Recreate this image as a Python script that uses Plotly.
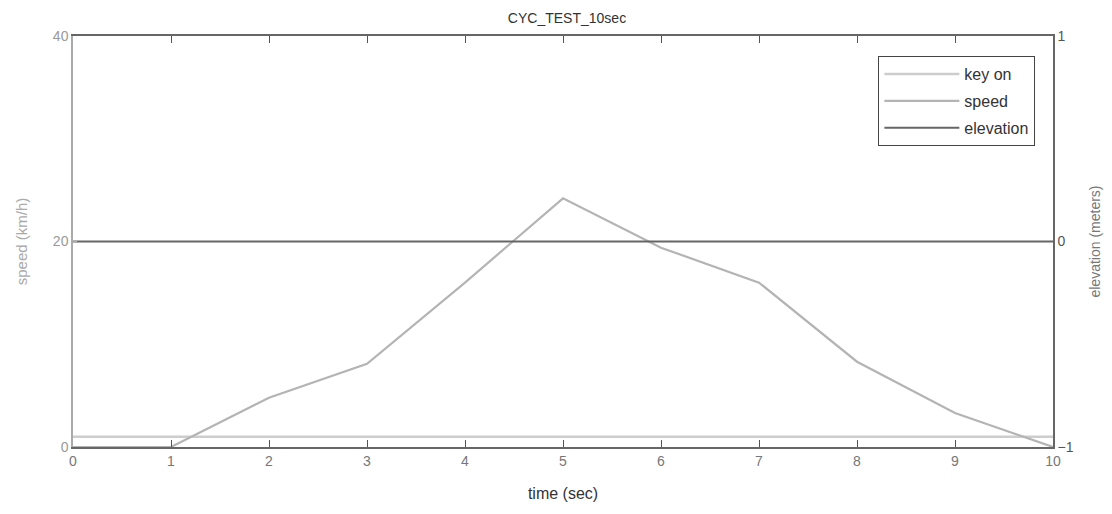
import plotly.graph_objects as go

time_sec = [0, 1, 2, 3, 4, 5, 6, 7, 8, 9, 10]
key_on = [1, 1, 1, 1, 1, 1, 1, 1, 1, 1, 1]
speed_time = [0, 1, 2, 3, 4, 5, 6, 7, 8, 9, 10]
speed_kmh = [0, 0, 4.8, 8.1, 16.0, 24.2, 19.4, 16.0, 8.3, 3.3, 0]
elevation_m = [0, 0, 0, 0, 0, 0, 0, 0, 0, 0, 0]

x_ticks = [0, 1, 2, 3, 4, 5, 6, 7, 8, 9, 10]
left_ticks = [0, 20, 40]
right_ticks = [-1, 0, 1]

FONT = "Liberation Sans, Arial, sans-serif"

fig = go.Figure()
fig.add_trace(go.Scatter(x=time_sec, y=key_on, mode="lines", name="key on", legendgroup="a",
                         line=dict(color="#cdcdcd", width=2.5)))
fig.add_trace(go.Scatter(x=speed_time, y=speed_kmh, mode="lines", name="speed", legendgroup="b",
                         line=dict(color="#b4b4b4", width=2.2)))
fig.add_trace(go.Scatter(x=time_sec, y=elevation_m, mode="lines", name="elevation", legendgroup="c",
                         line=dict(color="#666666", width=2), yaxis="y2"))

fig.update_layout(
    width=1112, height=514,
    margin=dict(l=65, r=67, t=28, b=75, autoexpand=False),
    paper_bgcolor="white", plot_bgcolor="white",
    font=dict(family=FONT, size=13, color="#555"),
    title=dict(text="CYC_TEST_10sec", x=(0.5 * 980 + 69) / 1112, xanchor="center",
               y=1 - 10 / 514, yanchor="middle",
               font=dict(size=14, color="#333", family=FONT)),
    showlegend=True,
    legend=dict(x=0.982, y=0.951, xanchor="right", yanchor="top",
                bordercolor="#444", borderwidth=1, bgcolor="white",
                font=dict(size=16, color="#333"), tracegroupgap=3, itemwidth=75),
    xaxis=dict(range=[0, 10], tickvals=x_ticks, ticks="inside", ticklen=7,
               tickcolor="#555", showline=True, linecolor="#666", linewidth=1.5,
               mirror="ticks", showgrid=False, zeroline=False, automargin=False,
               tickfont=dict(size=14, color="#777"),
               title=dict(text="time (sec)", font=dict(size=16, color="#333"), standoff=20)),
    yaxis=dict(range=[0, 40], tickvals=left_ticks, ticks="inside", ticklen=4,
               tickcolor="#aaa", showline=True, linecolor="#aaa", linewidth=1.5,
               showgrid=False, zeroline=False, automargin=False,
               tickfont=dict(size=14, color="#999"),
               title=dict(text="speed (km/h)", font=dict(size=15, color="#aaa"), standoff=22)),
    yaxis2=dict(range=[-1, 1], tickvals=right_ticks, overlaying="y", side="right",
                ticks="inside", ticklen=4, tickcolor="#666",
                showline=True, linecolor="#666", linewidth=1.5,
                showgrid=False, zeroline=False, automargin=False,
                tickfont=dict(size=14, color="#555"),
                title=dict(text="elevation (meters)", font=dict(size=14, color="#777"), standoff=17)),
)

fig.write_html("out.html")
